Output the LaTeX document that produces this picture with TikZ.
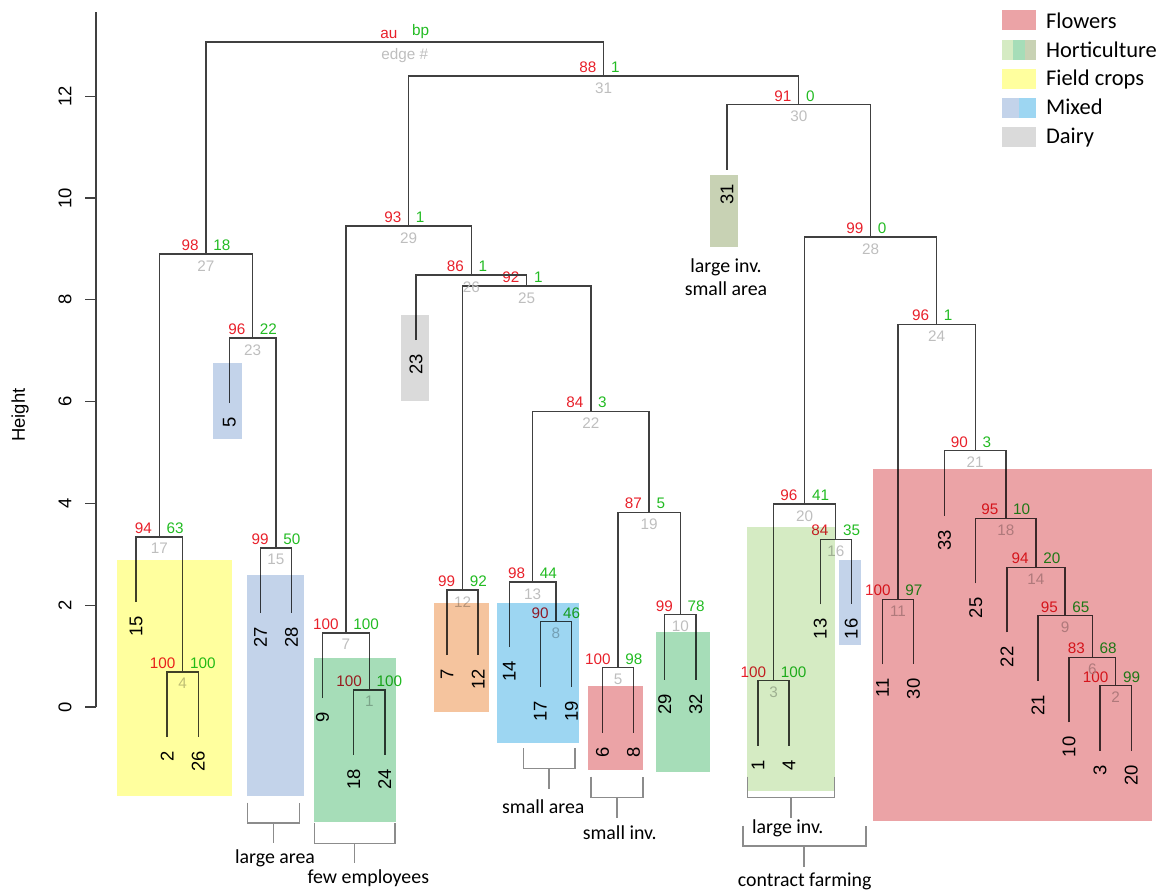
\documentclass[tikz,border=0pt]{standalone}
\usepackage{fontspec}
\setmainfont{Liberation Sans}
\newfontfamily\calfont{Carlito}
\usepackage{tikz}
\usetikzlibrary{calc}
\definecolor{auc}{HTML}{E8202A}
\definecolor{bpc}{HTML}{22BB22}
\definecolor{edgec}{HTML}{BEBEBE}
\definecolor{treec}{HTML}{404040}
\definecolor{bracec}{HTML}{8C8C8C}
\definecolor{flowc}{HTML}{EBA3A6}
\definecolor{hortlight}{HTML}{D5EBC3}
\definecolor{hortmint}{HTML}{A6DDB8}
\definecolor{hortolive}{HTML}{C8D2B4}
\definecolor{fieldc}{HTML}{FFFF9E}
\definecolor{mixgray}{HTML}{C3D3EA}
\definecolor{mixcyan}{HTML}{9DD6F2}
\definecolor{dairyc}{HTML}{DADADA}
\definecolor{peachc}{HTML}{F5C49E}
\newcommand{\pvfont}{\fontsize{8.7}{10}\selectfont}
\newcommand{\leaffont}{\fontsize{10.5}{12}\selectfont}
\newcommand{\notefont}{\calfont\fontsize{11.3}{13.2}\selectfont}
\newcommand{\legfont}{\calfont\fontsize{12.8}{15}\selectfont}
\tikzset{
  branch/.style={draw=treec, line width=0.8pt},
  axisline/.style={draw=treec, line width=0.7pt},
  aulab/.style={font=\pvfont, text=auc, anchor=south east, inner sep=0pt},
  bplab/.style={font=\pvfont, text=bpc, anchor=south west, inner sep=0pt},
  edgelab/.style={font=\pvfont, text=edgec, anchor=north, inner sep=0pt},
  leaflab/.style={font=\leaffont, rotate=90, anchor=east, inner sep=0pt},
  ticklab/.style={font=\leaffont, rotate=90, inner sep=0pt},
  axlab/.style={font=\leaffont, rotate=90, inner sep=0pt},
  bracketline/.style={draw=bracec, line width=0.9pt},
  note/.style={font=\notefont, inner sep=0pt},
  legtext/.style={font=\legfont, anchor=base west, inner sep=0pt},
}
% merge: id, left child, right child, height (px), au, bp, edge label
\newcommand{\merge}[7]{%
  \path (#2) -- (#3) coordinate[pos=.5] (m#1);
  \coordinate (n#1) at (m#1 |- 0,#4);
  \draw[branch] (#2) |- (n#1) -| (#3);
  \node[aulab] (au#1) at ($(n#1)+(-7,-3)$) {#5};
  \node[bplab] (bp#1) at ($(n#1)+(7,-3)$) {#6};
  \node[edgelab] (e#1) at ($(n#1)+(0,6)$) {#7};}
% bracket: name, x left, x right, y top, y bar, y stem, x text, y baseline, text
\newcommand{\bracket}[9]{%
  \coordinate (#1l) at (#2,#4);
  \coordinate (#1r) at (#3,#4);
  \coordinate (#1m) at ({(#2+#3)/2},#5);
  \coordinate (#1s) at ({(#2+#3)/2},#6);
  \draw[bracketline] (#1l) |- (#1m) -| (#1r);
  \draw[bracketline] (#1m) -- (#1s);
  \node[note, anchor=base] (#1t) at (#7,#8) {#9};}

\begin{document}
\begin{tikzpicture}[x=0.02cm, y=-0.02cm]
  \useasboundingbox (0,0) rectangle (1168,890);
  % axis
  \coordinate (ax0) at (96,707);
  \coordinate (axtop) at (96,12);
  \draw[axisline] (ax0) -- (axtop);
  \foreach \h in {0,2,...,12}{
    \draw[axisline] (96,707-50.9*\h) -- ++(-11,0);
    \node[ticklab] (tick\h) at (65,707-50.9*\h) {\h};
  }
  \node[axlab] (ylab) at (20,415) {Height};
  % leaves: label / height of parent
  \foreach \lab/\py [count=\i] in {15/537,2/672,26/672,5/338,27/548,28/548,9/633,18/690,24/690,
      23/275,7/590,12/590,14/582,17/621.7,19/621.7,6/667.7,8/667.7,29/614.7,32/614.7,31/104.7,
      1/680.7,4/680.7,13/539.3,16/539.3,11/599.3,30/599.3,33/450.7,25/518.3,22/567.3,21/615.5,
      10/657.3,3/685.7,20/685.7}{
    \pgfmathsetmacro{\lx}{136+31.1*(\i-1)}
    \coordinate (l\lab) at (\lx,\py+65);
    \node[leaflab] (t\lab) at (\lx,\py+79) {\lab};
  }
  \merge{1}{l18}{l24}{690}{100}{100}{1}
  \merge{2}{l3}{l20}{685.7}{100}{99}{2}
  \merge{3}{l1}{l4}{680.7}{100}{100}{3}
  \merge{4}{l2}{l26}{672}{100}{100}{4}
  \merge{5}{l6}{l8}{667.7}{100}{98}{5}
  \merge{6}{l10}{n2}{657.3}{83}{68}{6}
  \merge{7}{l9}{n1}{633}{100}{100}{7}
  \merge{8}{l17}{l19}{621.7}{90}{46}{8}
  \merge{9}{l21}{n6}{615.5}{95}{65}{9}
  \merge{10}{l29}{l32}{614.7}{99}{78}{10}
  \merge{11}{l11}{l30}{599.3}{100}{97}{11}
  \merge{12}{l7}{l12}{590}{99}{92}{12}
  \merge{13}{l14}{n8}{582}{98}{44}{13}
  \merge{14}{l22}{n9}{567.3}{94}{20}{14}
  \merge{15}{l27}{l28}{548}{99}{50}{15}
  \merge{16}{l13}{l16}{539.3}{84}{35}{16}
  \merge{17}{l15}{n4}{537}{94}{63}{17}
  \merge{18}{l25}{n14}{518.3}{95}{10}{18}
  \merge{19}{n5}{n10}{512.3}{87}{5}{19}
  \merge{20}{n3}{n16}{504}{96}{41}{20}
  \merge{21}{l33}{n18}{450.7}{90}{3}{21}
  \merge{22}{n13}{n19}{411.3}{84}{3}{22}
  \merge{23}{l5}{n15}{338}{96}{22}{23}
  \merge{24}{n11}{n21}{324.3}{96}{1}{24}
  \merge{25}{n12}{n22}{286}{92}{1}{25}
  \merge{26}{l23}{n25}{275}{86}{1}{26}
  \merge{27}{n17}{n23}{254}{98}{18}{27}
  \merge{28}{n20}{n24}{237}{99}{0}{28}
  \merge{29}{n7}{n26}{226}{93}{1}{29}
  \merge{30}{l31}{n28}{104.7}{91}{0}{30}
  \merge{31}{n29}{n30}{76}{88}{1}{31}
  \merge{32}{n27}{n31}{42}{au}{bp}{edge \#}
  % farm type boxes laid over the tree
  \begin{scope}[blend mode=multiply]
    \fill[fieldc] (116.7,560) rectangle (231.7,796);
    \fill[mixgray] (246.7,575) rectangle (304,796);
    \fill[mixgray] (213.3,363.3) rectangle (241.7,439.3);
    \fill[hortmint] (314.3,658.3) rectangle (395.7,821.7);
    \fill[dairyc] (401,315) rectangle (429.3,400.7);
    \fill[peachc] (434.3,603.3) rectangle (489,712.3);
    \fill[mixcyan] (497.3,603.3) rectangle (579,743.3);
    \fill[flowc] (588.3,685.7) rectangle (642.7,770);
    \fill[hortmint] (656,632.3) rectangle (710,772.3);
    \fill[hortolive] (710,175) rectangle (737.7,246.7);
    \fill[hortlight] (747.3,526.7) rectangle (835,790.7);
    \fill[mixgray] (839,560) rectangle (860.7,645);
    \fill[flowc] (872.7,469) rectangle (1152.3,821);
  \end{scope}
  \node[note, align=center, anchor=north] (note31) at (726,258) {large inv.\\small area};
  \bracket{larea}{247.7}{299.3}{802.7}{822.7}{843.3}{275}{863.3}{large area}
  \bracket{fewemp}{314.3}{395}{822.7}{843.3}{863.3}{368.3}{883.3}{few employees}
  \bracket{sarea}{523.3}{575}{748.3}{768.3}{789.3}{543.3}{813.3}{small area}
  \bracket{sinv}{590.7}{642.7}{776.7}{797.3}{818.3}{619.7}{839.3}{small inv.}
  \bracket{linv}{747.3}{834.3}{776.7}{797.3}{818.3}{787.8}{833.3}{large inv.}
  \bracket{contract}{742.7}{865.7}{825.7}{846}{866.7}{804.7}{886.7}{contract farming}
  % legend
  \fill[flowc] (1001.7,10) rectangle (1035.7,30);
  \fill[hortlight] (1001.7,39.5) rectangle (1013,59.5);
  \fill[hortmint] (1013,39.5) rectangle (1024.5,59.5);
  \fill[hortolive] (1024.5,39.5) rectangle (1035.7,59.5);
  \fill[fieldc] (1001.7,69) rectangle (1035.7,89);
  \fill[mixgray] (1001.7,98) rectangle (1018.5,118);
  \fill[mixcyan] (1018.5,98) rectangle (1035.7,118);
  \fill[dairyc] (1001.7,127) rectangle (1035.7,147);
  \node[legtext] (legflow) at (1045.7,28.3) {Flowers};
  \node[legtext] (leghort) at (1045.7,57) {Horticulture};
  \node[legtext] (legfield) at (1045.7,85.8) {Field crops};
  \node[legtext] (legmix) at (1045.7,114.5) {Mixed};
  \node[legtext] (legdairy) at (1045.7,143.3) {Dairy};
\end{tikzpicture}
\end{document}
